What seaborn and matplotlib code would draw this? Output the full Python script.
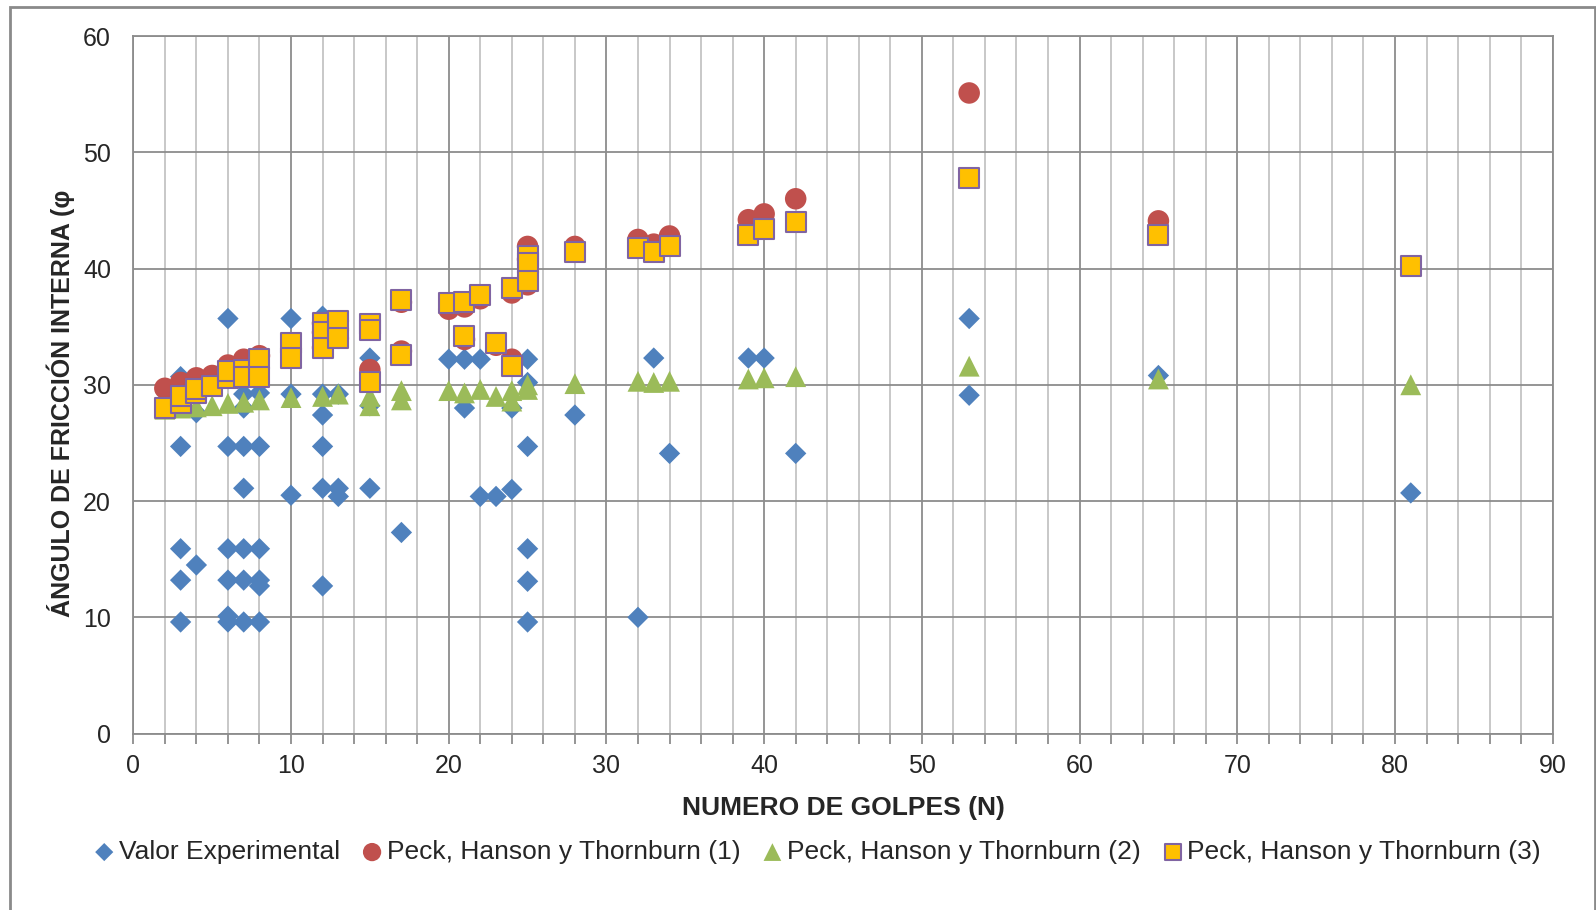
import matplotlib
matplotlib.use("Agg")
import matplotlib.pyplot as plt
import matplotlib.patches as mpatches
from matplotlib.ticker import MultipleLocator
import seaborn as sns

# Valor experimental (N, φ)
exp_n = [3, 3, 3, 3, 3,
         4, 4,
         6, 6, 6, 6, 6, 6,
         7, 7, 7, 7, 7, 7, 7,
         8, 8, 8, 8, 8, 8,
         10, 10, 10,
         12, 12, 12, 12, 12, 12,
         13, 13, 13,
         15, 15, 15,
         17,
         20,
         21, 21,
         22, 22,
         23,
         24, 24,
         25, 25, 25, 25, 25, 25,
         28, 32, 33, 34, 39, 40, 42,
         53, 53, 65, 81]
exp_phi = [30.7, 24.7, 15.9, 13.2, 9.6,
           27.6, 14.5,
           35.7, 24.7, 15.9, 13.2, 10.1, 9.6,
           29.2, 28.0, 24.7, 21.1, 15.9, 13.2, 9.6,
           29.3, 24.7, 15.9, 13.2, 12.7, 9.6,
           35.7, 29.2, 20.5,
           35.9, 29.2, 27.4, 24.7, 21.1, 12.7,
           29.2, 21.1, 20.4,
           32.3, 28.2, 21.1,
           17.3,
           32.2,
           32.2, 28.0,
           32.2, 20.4,
           20.4,
           28.0, 21.0,
           32.2, 30.2, 24.7, 15.9, 13.1, 9.6,
           27.4, 10.0, 32.3, 24.1, 32.3, 32.3, 24.1,
           35.7, 29.1, 30.8, 20.7]

# Peck, Hanson y Thornburn (1)
p1_n = [2, 3, 4, 5, 6, 7, 8, 10, 10, 12, 12, 12, 13, 13, 15, 15, 17, 17,
        20, 21, 21, 22, 23, 24, 24, 25, 25, 25, 28, 32, 33, 34, 39, 40, 42,
        53, 65, 81]
p1_phi = [29.7, 30.2, 30.6, 30.8, 31.7, 32.2, 32.5, 33.6, 32.3, 35.3, 34.5, 33.2,
          35.5, 34.0, 35.0, 31.3, 37.1, 32.9,
          36.5, 36.7, 33.9, 37.4, 33.4, 37.9, 32.2, 41.9, 40.8, 38.6, 41.9,
          42.5, 42.1, 42.8, 44.2, 44.7, 46.0,
          55.1, 44.1, 40.2]

# Peck, Hanson y Thornburn (2)
p2_n = [2, 3, 4, 5, 6, 7, 8, 10, 12, 13, 15, 15, 17, 17,
        20, 21, 22, 23, 24, 24, 25, 25, 28, 32, 33, 34, 39, 40, 42,
        53, 65, 81]
p2_phi = [27.9, 28.0, 28.1, 28.2, 28.4, 28.5, 28.7, 28.9, 29.0, 29.2, 29.0, 28.2,
          29.5, 28.7,
          29.5, 29.3, 29.6, 29.0, 29.5, 28.6, 30.0, 29.6, 30.1,
          30.3, 30.2, 30.3, 30.5, 30.6, 30.7,
          31.6, 30.5, 30.0]

# Peck, Hanson y Thornburn (3)
p3_n = [2, 3, 3, 4, 4, 5, 6, 6, 7, 7, 8, 8, 10, 10, 12, 12, 12, 13, 13,
        15, 15, 15, 17, 17, 20, 21, 21, 22, 23, 24, 24, 25, 25, 25, 28,
        32, 33, 34, 39, 40, 42, 53, 65, 81]
p3_phi = [28.0, 28.4, 29.0, 29.3, 29.6, 29.9, 30.6, 31.2, 31.3, 30.7, 32.2, 30.7,
          33.6, 32.3, 35.3, 34.5, 33.2, 35.5, 34.0,
          35.2, 34.7, 30.2, 37.3, 32.6, 37.0, 37.1, 34.2, 37.7, 33.6, 38.3, 31.6,
          41.1, 40.5, 38.9, 41.4,
          41.8, 41.4, 41.9, 42.9, 43.4, 44.0, 47.8, 42.9, 40.2]

x_ticks = list(range(0, 91, 10))
y_ticks = list(range(0, 61, 10))

sns.set_style("white")
plt.rcParams["font.family"] = ["Liberation Sans", "DejaVu Sans"]

W, H = 1596, 910
fig = plt.figure(figsize=(W / 100, H / 100), dpi=100)
left, right, top, bottom = 133.3, 1552.7, 36.0, 733.6
ax = fig.add_axes([left / W, 1 - bottom / H, (right - left) / W, (bottom - top) / H])

grid_major = "#8c8c8c"
grid_minor = "#c4c4c4"

sns.scatterplot(x=exp_n, y=exp_phi, marker="D", s=118, color="#4F81BD",
                edgecolor="none", linewidth=0, ax=ax, label="Valor Experimental", zorder=3)
sns.scatterplot(x=p1_n, y=p1_phi, marker="o", s=240, color="#C0504D",
                edgecolor="none", linewidth=0, ax=ax, label="Peck, Hanson y Thornburn (1)", zorder=4)
sns.scatterplot(x=p2_n, y=p2_phi, marker="^", s=225, color="#9BBB59",
                edgecolor="none", linewidth=0, ax=ax, label="Peck, Hanson y Thornburn (2)", zorder=5)
sns.scatterplot(x=p3_n, y=p3_phi, marker="s", s=190, color="#FFC000",
                edgecolor="#8064A2", linewidth=1.5, ax=ax, label="Peck, Hanson y Thornburn (3)", zorder=6)

ax.set_xlim(0, 90)
ax.set_ylim(0, 60)
ax.set_xticks(x_ticks)
ax.set_yticks(y_ticks)
ax.xaxis.set_minor_locator(MultipleLocator(2))
ax.set_axisbelow(True)
ax.grid(which="major", axis="both", color=grid_major, linewidth=1.3)
ax.grid(which="minor", axis="x", color=grid_minor, linewidth=1.3)

for side in ["left", "bottom", "top", "right"]:
    ax.spines[side].set_color(grid_major)
    ax.spines[side].set_linewidth(1.3)

ax.tick_params(axis="x", which="both", direction="out", length=7, width=1.3,
               color=grid_major, labelsize=18, pad=8, bottom=True)
ax.tick_params(axis="y", which="both", length=0, labelsize=18, pad=16)

ax.set_xlabel("NUMERO DE GOLPES (N)", fontsize=19, fontweight="bold")
ax.xaxis.set_label_coords(0.5, -0.089)
ax.set_ylabel("ÁNGULO DE FRICCIÓN INTERNA (φ", fontsize=18, fontweight="bold", va="center")
ax.yaxis.set_label_coords(-0.051, 0.473)

handles, labels = ax.get_legend_handles_labels()
ax.legend_.remove()
fig.legend(handles, labels, loc="center", ncol=4, frameon=False, fontsize=19,
           bbox_to_anchor=(818 / W, 1 - 852 / H), borderpad=0, handlelength=0.7,
           handletextpad=0.2, columnspacing=0.87, markerscale=0.85)

# chart-area frame
fig.patches.append(mpatches.Rectangle((10 / W, -0.01), (1594.5 - 10) / W, 1 - 6.7 / H + 0.01,
                                      transform=fig.transFigure, fill=False,
                                      edgecolor="#8a8a8a", linewidth=2))

fig.savefig("out.png", dpi=100)
